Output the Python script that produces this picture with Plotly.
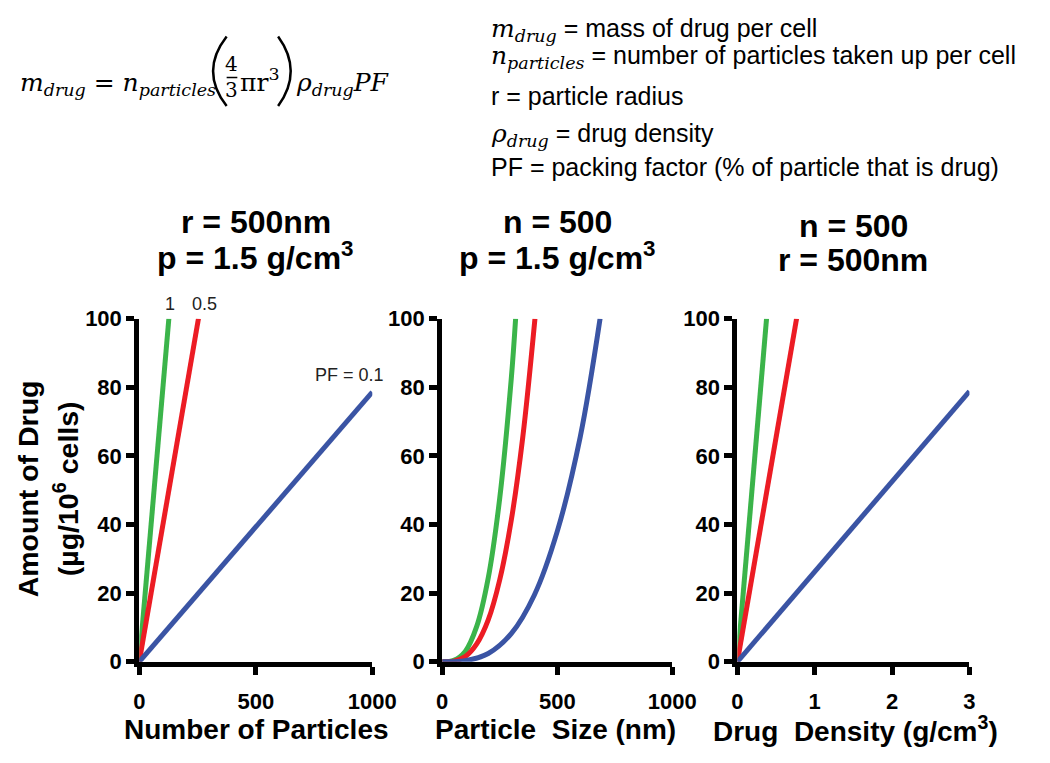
import plotly.graph_objects as go

# ---------------- data ----------------
pf_labels = ["1", "0.5", "PF = 0.1"]
colors = ["#3BB44A", "#EC1C24", "#3A54A4"]

# Panel 1: number of particles (r = 500 nm, rho = 1.5)
p1_green_x = [0, 127]
p1_green_y = [0, 100]
p1_red_x = [0, 254]
p1_red_y = [0, 100]
p1_blue_x = [0, 1000]
p1_blue_y = [0, 78.6]

# Panel 2: particle size (n = 500, rho = 1.5)
p2_green_x = [0, 50, 100, 150, 200, 250, 300, 319]
p2_green_y = [0, 0.4, 3.0, 10.3, 24.4, 47.7, 82.4, 100]
p2_red_x = [0, 50, 100, 150, 200, 250, 300, 350, 403]
p2_red_y = [0, 0.2, 1.5, 5.2, 12.2, 23.9, 41.2, 65.4, 100]
p2_blue_x = [0, 100, 200, 300, 400, 500, 600, 686]
p2_blue_y = [0, 0.3, 2.4, 8.2, 19.4, 38.0, 65.6, 100]

# Panel 3: drug density (n = 500, r = 500 nm)
p3_green_x = [0, 0.377]
p3_green_y = [0, 100]
p3_red_x = [0, 0.765]
p3_red_y = [0, 100]
p3_blue_x = [0, 3]
p3_blue_y = [0, 78.8]

y_ticks = [0, 20, 40, 60, 80, 100]
p1_ticks = [0, 500, 1000]
p2_ticks = [0, 500, 1000]
p3_ticks = [0, 1, 2, 3]

panel_titles = [["r = 500nm", "p = 1.5 g/cm<sup>3</sup>"],
                ["n = 500", "p = 1.5 g/cm<sup>3</sup>"],
                ["n = 500", "r = 500nm"]]
x_titles = ["Number of Particles", "Particle\u00a0\u00a0Size (nm)",
            "Drug\u00a0\u00a0Density (g/cm<sup>3</sup>)"]
y_title = ["Amount of Drug", "(µg/10<sup>6</sup> cells)"]

# ---------------- layout helpers ----------------
# page body has an 8px margin, so the figure is sized to fit the 1050x763 window
OFF = 8
W, H = 1050 - 2 * OFF, 763 - 2 * OFF
def fx(p): return (p - OFF) / W          # p: pixel position in the window
def fy(p): return 1 - (p - OFF) / H

SANS = "Liberation Sans, Arial, sans-serif"
SERIF = "DejaVu Serif, serif"

x_dom_px = [(137, 377), (449, 686), (753, 992)]
y_dom = [fy(672), fy(317)]

fig = go.Figure()

panels = [
    [(p1_green_x, p1_green_y), (p1_red_x, p1_red_y), (p1_blue_x, p1_blue_y)],
    [(p2_green_x, p2_green_y), (p2_red_x, p2_red_y), (p2_blue_x, p2_blue_y)],
    [(p3_green_x, p3_green_y), (p3_red_x, p3_red_y), (p3_blue_x, p3_blue_y)],
]
for i, series in enumerate(panels):
    ax = "" if i == 0 else str(i + 1)
    for j, (xs, ys) in enumerate(series):
        fig.add_trace(go.Scatter(
            x=xs, y=ys, mode="lines",
            line=dict(color=colors[j], width=5,
                      shape="spline" if i == 1 else "linear", smoothing=1.0),
            xaxis="x" + ax, yaxis="y" + ax, cliponaxis=False,
            showlegend=False, hoverinfo="skip"))

axis_common = dict(showline=True, linewidth=5, linecolor="black",
                   ticks="outside", ticklen=8, tickwidth=5, tickcolor="black",
                   showgrid=False, zeroline=False, fixedrange=True,
                   tickfont=dict(family=SANS, size=22, color="black", weight="bold"))

x_ranges = [[0, 1000], [0, 1000], [0, 3]]
x_tickvals = [p1_ticks, p2_ticks, p3_ticks]
layout = {}
for i in range(3):
    ax = "" if i == 0 else str(i + 1)
    layout["xaxis" + ax] = dict(axis_common, domain=[fx(x_dom_px[i][0]), fx(x_dom_px[i][1])],
                                range=x_ranges[i], tickvals=x_tickvals[i],
                                anchor="y" + ax, ticklabelstandoff=8)
    layout["yaxis" + ax] = dict(axis_common, domain=y_dom, range=[0, 100],
                                tickvals=y_ticks, anchor="x" + ax)

annotations = []
def ann(text, x, y, size, family=SANS, bold=False, xanchor="center",
        yanchor="middle", angle=0, color="black"):
    annotations.append(dict(text=text, x=fx(x), y=fy(y), xref="paper", yref="paper",
                            showarrow=False, xanchor=xanchor, yanchor=yanchor,
                            textangle=angle,
                            font=dict(family=family, size=size, color=color,
                                      weight="bold" if bold else "normal")))

# panel titles
centers = [(a + b) / 2 for a, b in x_dom_px]
title_y = [(217, 252), (217, 252), (221, 256)]
for i in range(3):
    ann(panel_titles[i][0], centers[i], title_y[i][0], 32, bold=True)
    ann(panel_titles[i][1], centers[i], title_y[i][1], 32, bold=True)

# x titles
xt_pos = [(258, 742), (566, 742), (875, 742)]
for i in range(3):
    ann(x_titles[i], xt_pos[i][0], xt_pos[i][1], 28, bold=True)

# y title (two lines)
ann(y_title[0], 22, 493, 28.5, bold=True, angle=-90)
ann(y_title[1], 61, 493, 28.5, bold=True, angle=-90)

# PF labels
ann(pf_labels[0], 169, 302, 18, color="#222")
ann(pf_labels[1], 204, 302, 18, color="#222")
ann(pf_labels[2], 354, 375, 18, color="#222")

# ---------------- formula ----------------
ann("<i>m</i><sub><i>drug</i></sub> = <i>n</i><sub><i>particles</i></sub>",
    12, 74, 25, family=SERIF, xanchor="left")
ann("4", 232, 54, 20, family=SERIF)
ann("3", 232, 80, 20, family=SERIF)
ann("πr<sup>3</sup>", 239, 71, 25, family=SERIF, xanchor="left")
ann("<i>ρ</i><sub><i>drug</i></sub><i>PF</i>", 296, 74, 25, family=SERIF, xanchor="left")

shapes = [
    dict(type="line", xref="paper", yref="paper", x0=fx(227), x1=fx(238),
         y0=fy(67.5), y1=fy(67.5), line=dict(color="black", width=1.5)),
    dict(type="path", xref="paper", yref="paper",
         path=f"M {fx(227)},{fy(25)} Q {fx(199)},{fy(61)} {fx(227)},{fy(97)}",
         line=dict(color="black", width=2.5)),
    dict(type="path", xref="paper", yref="paper",
         path=f"M {fx(280)},{fy(25)} Q {fx(306)},{fy(61)} {fx(280)},{fy(97)}",
         line=dict(color="black", width=2.5)),
]

# definitions (right column)
def var(t, sub):
    return (f'<span style="font-family:DejaVu Serif"><i>{t}</i><sub><i>{sub}</i></sub></span>')

defs = [
    (var("m", "drug") + " = mass of drug per cell", 18),
    (var("n", "particles") + " = number of particles taken up per cell", 46),
    ("r = particle radius", 87),
    (var("ρ", "drug") + " = drug density", 127),
    ("PF = packing factor (% of particle that is drug)", 160),
]
for t, y in defs:
    ann(t, 497, y, 25, xanchor="left")

fig.update_layout(**layout)
fig.update_layout(width=W, height=H, margin=dict(l=0, r=0, t=0, b=0),
                  paper_bgcolor="white", plot_bgcolor="white",
                  annotations=annotations, shapes=shapes,
                  font=dict(family=SANS, color="black"))

fig.write_html("out.html")
